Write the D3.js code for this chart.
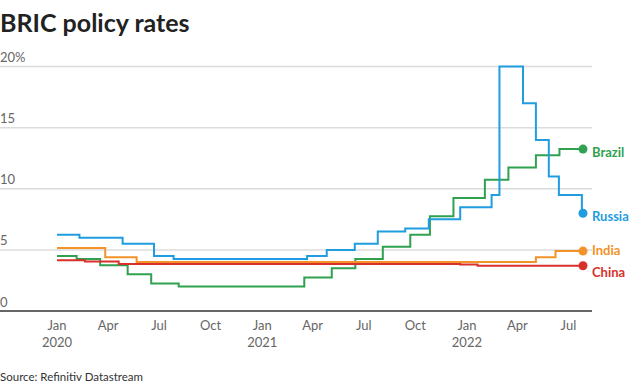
<!DOCTYPE html>
<html><head><meta charset="utf-8">
<script src="https://cdn.jsdelivr.net/npm/d3@7"></script>
<style>
body{margin:0;background:#fff;}
svg{display:block;font-family:"Source Sans Pro",Lato,"Noto Sans",sans-serif;}
</style></head>
<body><svg id="c" width="640" height="388"></svg>
<script>
const startDate = "2020-01-01", endDate = "2022-07-27";
const russia = [["2020-01-01",6.25],["2020-02-10",6.0],["2020-04-27",5.5],["2020-06-22",4.5],["2020-07-27",4.25],["2021-03-22",4.5],["2021-04-26",5.0],["2021-06-15",5.5],["2021-07-26",6.5],["2021-09-13",6.75],["2021-10-25",7.5],["2021-12-20",8.5],["2022-02-14",9.5],["2022-02-28",20],["2022-04-11",17],["2022-05-04",14],["2022-05-27",11],["2022-06-14",9.5],["2022-07-25",8.0]];
const brazil = [["2020-01-01",4.5],["2020-02-05",4.25],["2020-03-18",3.75],["2020-05-06",3.0],["2020-06-17",2.25],["2020-08-05",2.0],["2021-03-17",2.75],["2021-05-05",3.5],["2021-06-16",4.25],["2021-08-04",5.25],["2021-09-22",6.25],["2021-10-27",7.75],["2021-12-08",9.25],["2022-02-02",10.75],["2022-03-16",11.75],["2022-05-04",12.75],["2022-06-15",13.25]];
const india = [["2020-01-01",5.15],["2020-03-27",4.4],["2020-05-22",4.0],["2022-05-04",4.4],["2022-06-08",4.9]];
const china = [["2020-01-01",4.15],["2020-02-20",4.05],["2020-04-20",3.85],["2021-12-20",3.8],["2022-01-20",3.7]];
const seriesNames = ["Brazil","Russia","India","China"];
const seriesData = [brazil, russia, india, china];
const colors = ["#2fa14f","#1f9de0","#f39229","#d8312b"];
const labelY = [157,221,255,277];
const yTicks = [0,5,10,15,20];
const yTickLabels = ["0","5","10","15","20%"];
const xTicks = ["2020-01-01","2020-04-01","2020-07-01","2020-10-01","2021-01-01","2021-04-01","2021-07-01","2021-10-01","2022-01-01","2022-04-01","2022-07-01"];

const parse = d3.utcParse("%Y-%m-%d");
const svg = d3.select("#c");
const x = d3.scaleUtc().domain([parse(startDate), parse(endDate)]).range([57,583]);
const y = d3.scaleLinear().domain([0,20]).range([311,66.6]);

svg.append("text").attr("x",0).attr("y",32).attr("font-size",25).attr("font-weight",700).attr("fill","#222").text("BRIC policy rates");

// gridlines
const g = svg.append("g");
yTicks.forEach((t,i)=>{
  if(t>0) g.append("line").attr("x1",0).attr("x2",592).attr("y1",y(t)).attr("y2",y(t)).attr("stroke","#dcdcdc").attr("stroke-width",1.5);
  g.append("text").attr("x",0).attr("y",y(t)-4.5).attr("font-size",13).attr("fill","#666").text(yTickLabels[i]);
});
g.append("line").attr("x1",0).attr("x2",592).attr("y1",y(0)).attr("y2",y(0)).attr("stroke","#333").attr("stroke-width",1.5);

// x axis labels
const fmtM = d3.utcFormat("%b");
const xa = svg.append("g").attr("transform","translate(0,311)")
  .call(d3.axisBottom(x).tickValues(xTicks.map(parse)).tickSize(0).tickPadding(0).tickFormat(""));
xa.select(".domain").remove();
xTicks.forEach(s=>{
  const d = parse(s);
  svg.append("text").attr("x",x(d)).attr("y",330).attr("text-anchor","middle").attr("font-size",13).attr("fill","#666").text(fmtM(d));
  if(d.getUTCMonth()===0) svg.append("text").attr("x",x(d)).attr("y",347).attr("text-anchor","middle").attr("font-size",13).attr("fill","#666").text(d.getUTCFullYear());
});

// lines
const line = d3.line().curve(d3.curveStepAfter).x(d=>x(d[0])).y(d=>y(d[1]));
seriesData.forEach((s,i)=>{
  const pts = s.map(d=>[parse(d[0]),d[1]]);
  pts.push([parse(endDate), s[s.length-1][1]]);
  svg.append("path").attr("d",line(pts)).attr("fill","none").attr("stroke",colors[i]).attr("stroke-width",2);
  svg.append("circle").attr("cx",x(parse(endDate))).attr("cy",y(s[s.length-1][1])).attr("r",4.5).attr("fill",colors[i]);
  svg.append("text").attr("x",592).attr("y",labelY[i]).attr("font-size",13).attr("font-weight",700).attr("fill",colors[i]).text(seriesNames[i]);
});

svg.append("text").attr("x",0).attr("y",381).attr("font-size",11.5).attr("fill","#333").text("Source: Refinitiv Datastream");
</script></body></html>
